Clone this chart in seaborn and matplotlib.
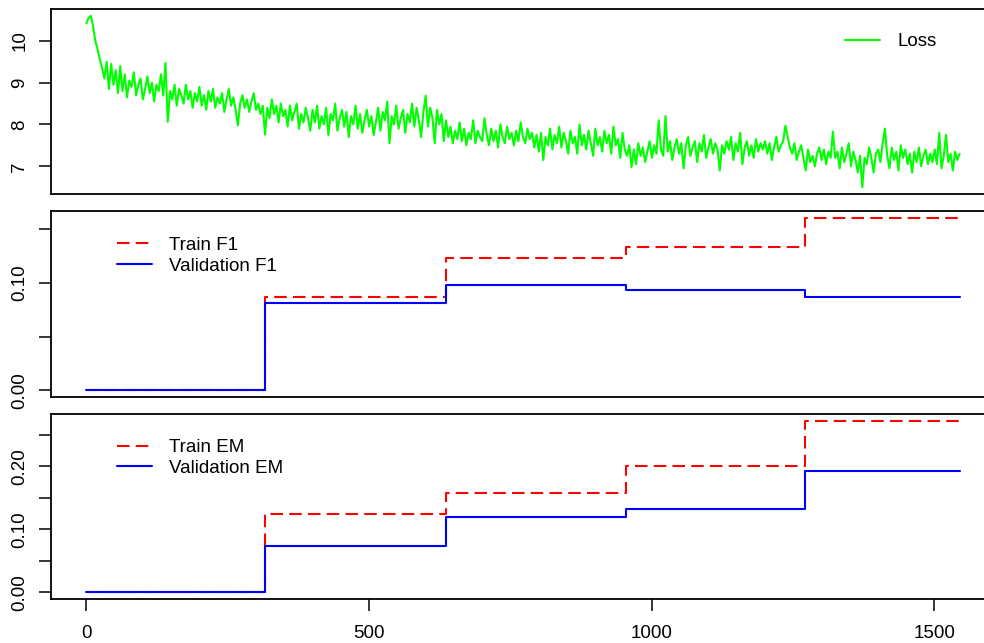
import numpy as np
import pandas as pd
import matplotlib
matplotlib.use("Agg")
import matplotlib.pyplot as plt
import seaborn as sns

# training loss, every 4 steps
loss = [
    10.42, 10.55, 10.60, 10.35, 10.00, 9.80, 9.55, 9.35, 9.10, 9.50,
    8.85, 9.45, 8.95, 9.30, 8.75, 9.40, 8.80, 9.20, 8.65, 9.05,
    8.90, 9.25, 8.70, 8.95, 9.10, 8.60, 8.85, 9.15, 8.75, 9.00,
    8.55, 8.95, 8.80, 9.20, 8.70, 9.47, 8.06, 8.80, 8.60, 8.95,
    8.45, 8.85, 8.70, 8.50, 8.95, 8.60, 8.80, 8.40, 8.75, 8.55,
    8.90, 8.45, 8.70, 8.35, 8.80, 8.55, 8.85, 8.40, 8.65, 8.50,
    8.75, 8.30, 8.60, 8.85, 8.45, 8.65, 8.35, 7.98, 8.50, 8.70,
    8.40, 8.60, 8.30, 8.55, 8.75, 8.35, 8.50, 8.25, 8.45, 7.76,
    8.40, 8.15, 8.60, 8.25, 8.45, 8.05, 8.50, 8.20, 8.35, 7.95,
    8.45, 8.10, 8.30, 8.50, 7.90, 8.25, 8.05, 8.40, 8.15, 7.85,
    8.35, 8.05, 8.45, 7.90, 8.20, 8.00, 8.40, 7.75, 8.25, 8.10,
    8.50, 7.85, 8.15, 8.35, 7.95, 8.30, 7.70, 8.20, 8.00, 8.45,
    7.90, 8.25, 7.80, 8.10, 8.35, 7.95, 8.20, 7.75, 8.05, 8.40,
    7.85, 8.30, 8.10, 8.55, 7.55, 8.20, 8.00, 8.45, 7.90, 8.15,
    8.35, 7.80, 8.25, 8.05, 8.50, 7.95, 8.40, 8.10, 7.70, 8.30,
    8.69, 7.95, 8.40, 8.15, 7.55, 8.35, 8.00, 8.25, 7.60, 8.10,
    7.70, 7.95, 7.55, 7.85, 7.65, 8.05, 7.60, 7.90, 7.50, 7.80,
    7.65, 8.10, 7.55, 7.85, 7.70, 7.60, 8.15, 7.75, 7.50, 7.90,
    7.60, 7.85, 7.45, 8.00, 7.70, 7.55, 7.95, 7.65, 7.80, 7.50,
    7.85, 7.60, 8.05, 7.70, 7.55, 7.90, 7.65, 7.80, 7.45, 7.75,
    7.35, 7.80, 7.15, 7.70, 7.50, 7.90, 7.40, 7.75, 7.55, 7.95,
    7.45, 7.80, 7.60, 7.30, 7.85, 7.55, 7.70, 7.30, 8.00, 7.50,
    7.75, 7.40, 7.85, 7.55, 7.25, 7.90, 7.50, 7.70, 7.35, 7.85,
    7.55, 7.75, 7.30, 7.95, 7.50, 7.65, 7.20, 7.80, 7.40, 7.25,
    7.50, 6.98, 7.40, 7.05, 7.55, 7.25, 7.45, 7.10, 7.35, 7.60,
    7.20, 7.50, 7.30, 8.10, 7.40, 7.25, 8.20, 7.35, 7.60, 7.15,
    7.45, 7.65, 7.30, 7.55, 6.95, 7.50, 7.70, 7.25, 7.45, 7.60,
    7.10, 7.55, 7.35, 7.75, 7.20, 7.45, 7.65, 7.30, 7.55, 7.40,
    6.90, 7.50, 7.30, 7.60, 7.40, 7.70, 7.15, 7.55, 7.35, 7.80,
    7.05, 7.45, 7.60, 7.25, 7.50, 7.20, 7.65, 7.35, 7.55, 7.40,
    7.60, 7.30, 7.55, 7.15, 7.45, 7.70, 7.35, 7.50, 7.60, 7.97,
    7.70, 7.45, 7.30, 7.55, 7.15, 7.35, 7.50, 7.20, 6.90, 7.40,
    7.10, 7.25, 7.00, 7.30, 7.45, 7.15, 7.40, 7.05, 7.35, 7.20,
    7.83, 7.20, 7.35, 6.95, 7.45, 7.10, 7.30, 7.55, 7.00, 7.35,
    7.15, 6.85, 7.25, 6.50, 7.20, 7.05, 7.45, 7.20, 6.85, 7.30,
    7.40, 7.10, 7.55, 7.90, 7.25, 6.95, 7.45, 7.15, 7.35, 6.90,
    7.50, 7.20, 7.40, 7.05, 7.30, 6.85, 7.35, 7.10, 7.45, 7.00,
    7.25, 7.40, 7.05, 7.30, 7.10, 7.40, 7.05, 7.80, 6.95, 7.25,
    7.75, 7.10, 7.30, 6.90, 7.35, 7.15, 7.30,
]
loss_steps = np.arange(len(loss)) * 4

# epoch boundaries (step where each evaluation changes) and the final step
epoch_steps = [0, 316, 636, 954, 1272, 1545]
train_f1 = [0.0, 0.0870, 0.1227, 0.1329, 0.1599, 0.1599]
val_f1 = [0.0, 0.0814, 0.0979, 0.0929, 0.0864, 0.0864]
train_em = [0.0, 0.1245, 0.1583, 0.2005, 0.2723, 0.2723]
val_em = [0.0, 0.0728, 0.1193, 0.1325, 0.1926, 0.1926]

sns.set_style("white")
plt.rcParams["font.family"] = ["Liberation Sans", "DejaVu Sans"]
plt.rcParams["font.size"] = 13.5
plt.rcParams["text.color"] = "black"

fig = plt.figure(figsize=(9.84, 6.43), dpi=100)
left, width = 0.0522, 0.9585
ax1 = fig.add_axes([left, 0.6983, width, 0.2877])
ax2 = fig.add_axes([left, 0.3821, width, 0.2893])
ax3 = fig.add_axes([left, 0.0680, width, 0.2885])

loss_df = pd.DataFrame({"step": loss_steps, "loss": loss})
sns.lineplot(data=loss_df, x="step", y="loss", ax=ax1, color="#00ff00",
             lw=1.5, label="Loss", estimator=None)

dash = (0, (6, 3))
f1_df = pd.DataFrame({"step": epoch_steps, "train": train_f1, "val": val_f1})
sns.lineplot(data=f1_df, x="step", y="train", ax=ax2, color="#ff0000", lw=1.5,
             linestyle=dash, drawstyle="steps-post", label="Train F1", estimator=None)
sns.lineplot(data=f1_df, x="step", y="val", ax=ax2, color="#0000ff", lw=1.5,
             drawstyle="steps-post", label="Validation F1", estimator=None)

em_df = pd.DataFrame({"step": epoch_steps, "train": train_em, "val": val_em})
sns.lineplot(data=em_df, x="step", y="train", ax=ax3, color="#ff0000", lw=1.5,
             linestyle=dash, drawstyle="steps-post", label="Train EM", estimator=None)
sns.lineplot(data=em_df, x="step", y="val", ax=ax3, color="#0000ff", lw=1.5,
             drawstyle="steps-post", label="Validation EM", estimator=None)

ax1.set_yticks([7, 8, 9, 10])
ax1.set_yticklabels(["7", "8", "9", "10"])
ax2.set_yticks([0, 0.05, 0.10, 0.15])
ax2.set_yticklabels(["0.00", "", "0.10", ""])
ax3.set_yticks([0, 0.05, 0.10, 0.15, 0.20, 0.25])
ax3.set_yticklabels(["0.00", "", "0.10", "", "0.20", ""])
ax3.set_xticks([0, 500, 1000, 1500])
ax3.set_xticklabels(["0", "500", "1000", "1500"])

for ax in (ax1, ax2, ax3):
    ax.margins(x=0.04, y=0.04)
    ax.set_xlabel("")
    ax.set_ylabel("")
    for sp in ax.spines.values():
        sp.set_visible(True)
        sp.set_color("black")
        sp.set_linewidth(1.3)
    ax.tick_params(axis="y", left=True, length=8.6, width=1.1, pad=8,
                   labelrotation=90, colors="black")
    for lab in ax.get_yticklabels():
        lab.set_va("center")
for ax in (ax1, ax2):
    ax.tick_params(axis="x", bottom=False, labelbottom=False)
ax3.tick_params(axis="x", bottom=True, length=8.6, width=1.1, pad=10, colors="black")

leg_kw = dict(frameon=False, handlelength=1.85, handletextpad=0.93, labelspacing=0.2,
              borderpad=0, borderaxespad=0, bbox_transform=fig.transFigure,
              loc="center left", fontsize=13.5)
ax1.legend(bbox_to_anchor=(0.8587, 0.9351), **leg_kw)
ax2.legend(bbox_to_anchor=(0.1189, 0.6022), **leg_kw)
ax3.legend(bbox_to_anchor=(0.1189, 0.2877), **leg_kw)

fig.savefig("out.png", dpi=100)
